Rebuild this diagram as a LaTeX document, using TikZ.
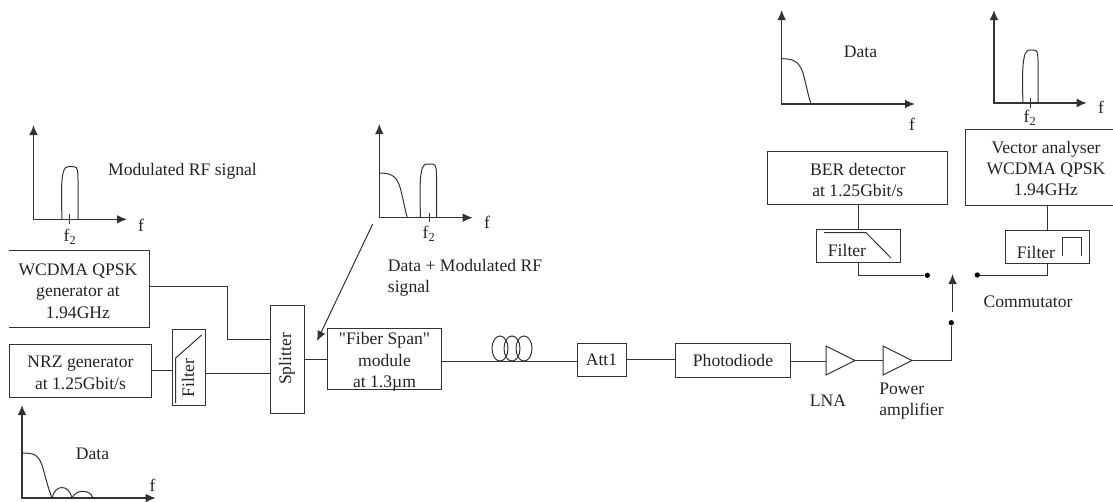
\documentclass[tikz,border=0pt]{standalone}
\usepackage{fontspec}
\setmainfont{Liberation Serif}
\newfontfamily\quotefont{Liberation Serif}
\usepackage{xcolor}
\definecolor{fdline}{RGB}{50,50,50}
\definecolor{fdtext}{RGB}{35,35,35}
\usepackage{tikz}
\usetikzlibrary{arrows.meta, positioning, shapes.geometric, calc}
\tikzset{
  blockbox/.style={draw=fdline, line width=0.75pt, inner sep=0pt, align=center, text=fdtext},
  plainlabel/.style={inner sep=0pt, align=center, text=fdtext},
  wire/.style={draw=fdline, line width=0.75pt},
  axisline/.style={draw=fdline, line width=1pt, {Latex[length=7.5pt,width=6.5pt]}-{Latex[length=7.5pt,width=6.5pt]}},
  curveline/.style={draw=fdline, line width=0.75pt},
  ampl/.style={draw=fdline, line width=0.75pt, isosceles triangle, isosceles triangle stretches, minimum width=21.75pt, minimum height=21.75pt, inner sep=0pt},
  contact/.style={circle, fill=black, inner sep=0pt, minimum size=4pt}
}
\begin{document}
\begin{tikzpicture}[x=0.75pt, y=-0.75pt, font=\fontsize{13.2}{16}\selectfont]
  \useasboundingbox (0,0) rectangle (1113,501);

  % Plot modulated RF
  \draw[axisline] (33.5,125) |- (127,219.3);
  \draw[curveline] (62,219.3) .. controls (61,185) and (61,166.7) .. (68,166.7) -- (74,166.7) .. controls (78,166.7) and (78,172) .. (78,180) -- (78,219.3);
  \draw[curveline] (69.5,214) -- (69.5,224);
  \node[plainlabel] (fa) at (141,225) {f};
  \node[plainlabel] (fb) at (70,237) {f\textsubscript{2}};
  \node[plainlabel] (rflabel) at (182.5,171) {Modulated RF signal};

  % Plot data input
  \draw[axisline] (22,405) |- (155.7,498);
  \draw[curveline] (22,453) .. controls (33,453) and (38,454) .. (42,465) .. controls (45,475) and (48,488) .. (52,498);
  \draw[curveline] (52,498) .. controls (55,484) and (69,484) .. (72,498) .. controls (76,489) and (90,489) .. (93,498);
  \node[plainlabel] (fc) at (152.5,485) {f};
  \node[plainlabel] (datain) at (92.5,454) {Data};

  % Plot data + RF
  \draw[axisline] (379.3,124) |- (472.7,217.7);
  \draw[curveline] (379.3,173) .. controls (390,173) and (396,175) .. (400,187) .. controls (403,198) and (405,210) .. (407.3,217.7);
  \draw[curveline] (420.5,217.7) .. controls (419.5,185) and (419.5,164) .. (426.5,164) -- (432.5,164) .. controls (436.5,164) and (436.5,170) .. (436.5,178) -- (436.5,217.7);
  \draw[curveline] (429.5,213) -- (429.5,222);
  \node[plainlabel] (fd) at (487,222) {f};
  \node[plainlabel] (fe) at (429,234) {f\textsubscript{2}};
  \node[plainlabel, align=left, anchor=north west] (mixlabel) at (387.7,259) {Data + Modulated RF\\signal};

  % Plot data output
  \draw[axisline] (781.7,10) |- (915,104);
  \draw[curveline] (781.7,58.7) .. controls (793,58.7) and (799,61) .. (803,73) .. controls (806,84) and (808,95) .. (811,104);
  \node[plainlabel] (ff) at (912,124) {f};
  \node[plainlabel] (dataout) at (860.5,52) {Data};

  % Plot RF output
  \draw[axisline] (994,10) |- (1086.7,103);
  \draw[curveline] (1023,103) .. controls (1022,75) and (1022,50) .. (1029,50) -- (1034,50) .. controls (1038,50) and (1038,55) .. (1038,63) -- (1038,103);
  \draw[curveline] (1030.5,98) -- (1030.5,108);
  \node[plainlabel] (fg) at (1101,107) {f};
  \node[plainlabel] (fh) at (1030,118) {f\textsubscript{2}};

  % Transmitter
  \node[plainlabel, minimum width=105pt, minimum height=57pt] (wcdma) at (79,289) {};
  \node[plainlabel] (wcdmalabel) at (78,291) {WCDMA QPSK\\generator at\\1.94GHz};
  \draw[wire] (wcdma.north west) -- (wcdma.north east) -- (wcdma.south east) -- (wcdma.south west);
  \node[blockbox, minimum width=106.5pt, minimum height=39.75pt] (nrz) at (80.5,370.5) {};
  \node[plainlabel] (nrzlabel) at (80.5,373) {NRZ generator\\at 1.25Gbit/s};
  \node[blockbox, minimum width=24.5pt, minimum height=57pt] (filtertx) at (188.7,367) {};
  \node[plainlabel, rotate=90] (filtertxlabel) at (188,378) {Filter};
  \draw[curveline] (175.7,403) -- (175.7,358) -- (201.7,335);
  \node[blockbox, rotate=90, minimum width=81pt, minimum height=25.5pt] (splitter) at (287,359) {Splitter};
  \node[blockbox, minimum width=85.5pt, minimum height=46pt] (fiberspan) at (384.5,359) {};
  \node[plainlabel] (fiberlabel) at (384.5,362) {{\quotefont"Fiber Span"}\\module\\at 1.3µm};

  \coordinate (bendtop) at (227.5,286.5);
  \coordinate (spliceup) at (227.5,339);
  \draw[wire] (wcdma.east |- bendtop) -- (bendtop) -- (spliceup) -- (spliceup -| splitter.north);
  \draw[wire] (nrz.east) -- (nrz.east -| filtertx.west);
  \draw[wire] (filtertx.east |- 0,373) -- (splitter.north |- 0,373);
  \draw[wire] (splitter.south |- 0,359.5) -- (fiberspan.west |- 0,359.5);

  % Arrow down to fibre input
  \coordinate (mixtail) at (372.7,224);
  \coordinate (mixtip) at (317,341);
  \draw[wire, -{Latex[length=7.5pt,width=6.5pt]}] (mixtail) -- (mixtip);

  % Fibre coil and receiver
  \node[blockbox, minimum width=36.75pt, minimum height=24.75pt] (att) at (601.5,359.5) {Att1};
  \node[blockbox, minimum width=86.5pt, minimum height=25.5pt] (photodiode) at (733,360) {Photodiode};
  \draw[wire] (fiberspan.east |- 0,361) -- (att.west |- 0,361);
  \draw[curveline] (500,348.5) ellipse [x radius=8, y radius=12.5];
  \draw[curveline] (512,348.5) ellipse [x radius=8, y radius=12.5];
  \draw[curveline] (524,348.5) ellipse [x radius=8, y radius=12.5];
  \draw[wire] (att.east |- 0,359) -- (photodiode.west |- 0,359);
  \node[ampl] (lna) at (835,360.5) {};
  \node[ampl] (power) at (892,360.5) {};
  \draw[wire] (photodiode.east |- 0,361) -- (lna.west |- 0,361);
  \draw[wire] (lna.east) -- (power.west |- lna.east);
  \node[plainlabel] (lnalabel) at (828,400.7) {LNA};
  \node[plainlabel, align=left, anchor=north west] (powerlabel) at (879,382.5) {Power\\amplifier};

  % Commutator
  \node[contact] (cominput) at (951.3,322.7) {};
  \node[contact] (comleft) at (927.3,275.3) {};
  \node[contact] (comright) at (977.3,275) {};
  \coordinate (armtail) at (952.5,312);
  \coordinate (armtip) at (952.5,274);
  \draw[wire, line width=1.15pt, -{Latex[length=7.5pt,width=6.5pt]}] (armtail) -- (armtip);
  \draw[wire] (power.east) -| (cominput);
  \node[plainlabel] (comlabel) at (1028,302) {Commutator};

  % BER branch
  \node[blockbox, minimum width=134.75pt, minimum height=40pt] (ber) at (857.8,178.3) {};
  \node[plainlabel] (berlabel) at (857.8,180) {BER detector\\at 1.25Gbit/s};
  \node[blockbox, minimum width=63pt, minimum height=24.75pt] (filterber) at (858.8,245.5) {};
  \node[plainlabel] (filterberlabel) at (847,250.7) {Filter};
  \draw[curveline] (824,232.7) -- (866,232.7) -- (891,258);
  \draw[wire] (ber.south -| filterber.north) -- (filterber.north);
  \draw[wire] (filterber.south) |- (comleft);

  % Vector analyser branch
  \node[blockbox, minimum width=111.5pt, minimum height=57pt] (vector) at (1039.5,167) {};
  \node[plainlabel] (vectorlabel) at (1046,168.5) {Vector analyser\\WCDMA QPSK\\1.94GHz};
  \node[blockbox, minimum width=63pt, minimum height=24.75pt] (filterrf) at (1047.3,247) {};
  \node[plainlabel] (filterrflabel) at (1036,252) {Filter};
  \draw[curveline] (1062,255.7) -- (1062,237) -- (1081.7,237) -- (1081.7,256);
  \draw[wire] (vector.south -| filterrf.north) -- (filterrf.north);
  \draw[wire] (filterrf.south) |- (comright);
\end{tikzpicture}
\end{document}
